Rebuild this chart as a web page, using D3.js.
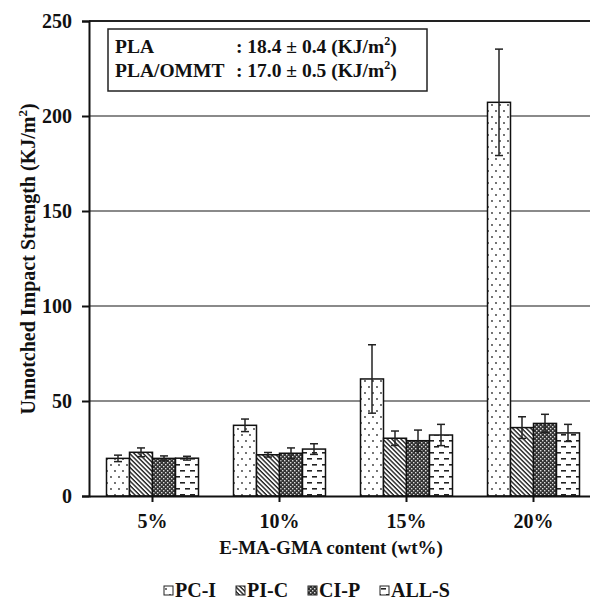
<!DOCTYPE html>
<html>
<head>
<meta charset="utf-8">
<script src="https://cdn.jsdelivr.net/npm/d3@7"></script>
<style>
  html, body { margin: 0; padding: 0; background: #fff; }
  svg { display: block; font-family: "Liberation Serif", "Times New Roman", serif; font-weight: bold; }
</style>
</head>
<body>
<div id="viz"></div>
<script>
// data
const categories = ["5%", "10%", "15%", "20%"];
const series = ["PC-I", "PI-C", "CI-P", "ALL-S"];
const means = {
  "PC-I":  [19.8, 37.2, 61.6, 207.2],
  "PI-C":  [23.0, 21.7, 30.4, 36.0],
  "CI-P":  [19.8, 22.5, 29.1, 38.2],
  "ALL-S": [19.9, 24.7, 32.1, 33.2]
};
const errors = {
  "PC-I":  [1.7, 3.3, 18.0, 28.0],
  "PI-C":  [2.3, 1.2, 3.8, 5.7],
  "CI-P":  [1.3, 2.8, 5.6, 4.8],
  "ALL-S": [1.0, 2.8, 5.6, 4.5]
};
const yTicks = [0, 50, 100, 150, 200, 250];
const gridValues = [50, 100, 150, 200];
const noteLines = [
  { name: "PLA", value: "18.4 \u00b1 0.4" },
  { name: "PLA/OMMT", value: "17.0 \u00b1 0.5" }
];

const width = 590, height = 600;
const plotLeft = 89, plotRight = 597, plotTop = 21, plotBottom = 496;

const svg = d3.select("#viz").append("svg")
  .attr("width", width).attr("height", height);

// fill patterns, one per series
const defs = svg.append("defs");

const pDot = defs.append("pattern").attr("id", "pat-PC-I")
  .attr("patternUnits", "userSpaceOnUse").attr("width", 8).attr("height", 12);
pDot.append("rect").attr("width", 8).attr("height", 12).attr("fill", "#fff");
pDot.append("circle").attr("cx", 2).attr("cy", 3).attr("r", 0.9).attr("fill", "#333");
pDot.append("circle").attr("cx", 6).attr("cy", 9).attr("r", 0.9).attr("fill", "#333");

const pDiag = defs.append("pattern").attr("id", "pat-PI-C")
  .attr("patternUnits", "userSpaceOnUse").attr("width", 3.2).attr("height", 3.2)
  .attr("patternTransform", "rotate(45)");
pDiag.append("rect").attr("width", 3.2).attr("height", 3.2).attr("fill", "#fff");
pDiag.append("rect").attr("width", 3.2).attr("height", 1.4).attr("fill", "#222");

const pCheck = defs.append("pattern").attr("id", "pat-CI-P")
  .attr("patternUnits", "userSpaceOnUse").attr("width", 4).attr("height", 4);
pCheck.append("rect").attr("width", 4).attr("height", 4).attr("fill", "#333");
pCheck.append("rect").attr("x", 0).attr("y", 0).attr("width", 1.4).attr("height", 1.4).attr("fill", "#ddd");
pCheck.append("rect").attr("x", 2).attr("y", 2).attr("width", 1.4).attr("height", 1.4).attr("fill", "#ddd");

const pDash = defs.append("pattern").attr("id", "pat-ALL-S")
  .attr("patternUnits", "userSpaceOnUse").attr("width", 10).attr("height", 12);
pDash.append("rect").attr("width", 10).attr("height", 12).attr("fill", "#fff");
pDash.append("rect").attr("x", 1).attr("y", 2).attr("width", 5).attr("height", 1.6).attr("fill", "#222");
pDash.append("rect").attr("x", 6).attr("y", 8).attr("width", 5).attr("height", 1.6).attr("fill", "#222");
pDash.append("rect").attr("x", -4).attr("y", 8).attr("width", 5).attr("height", 1.6).attr("fill", "#222");

// scales
const x0 = d3.scaleBand().domain(categories).range([plotLeft, plotRight]).padding(0);
const groupW = 92;
const x1 = d3.scaleBand().domain(series)
  .range([(x0.bandwidth() - groupW) / 2, (x0.bandwidth() + groupW) / 2]).padding(0);
const y = d3.scaleLinear().domain([0, 250]).range([plotBottom, plotTop]);

// gridlines
svg.append("g").selectAll("line").data(gridValues).join("line")
  .attr("x1", plotLeft).attr("x2", plotRight)
  .attr("y1", d => y(d)).attr("y2", d => y(d))
  .attr("stroke", "#8a8a8a").attr("stroke-width", 2);

// top border of plot area
svg.append("line").attr("x1", plotLeft).attr("x2", plotRight)
  .attr("y1", y(250)).attr("y2", y(250))
  .attr("stroke", "#222").attr("stroke-width", 2);

// bars
const groups = svg.append("g").selectAll("g").data(categories).join("g")
  .attr("transform", d => `translate(${x0(d)},0)`);

const barData = ci => series.map(s => ({ s, v: means[s][ci], e: errors[s][ci] }));

groups.each(function (cat, ci) {
  const g = d3.select(this);
  const rows = barData(ci);
  g.selectAll("rect").data(rows).join("rect")
    .attr("x", d => x1(d.s))
    .attr("y", d => y(d.v))
    .attr("width", x1.bandwidth())
    .attr("height", d => y(0) - y(d.v))
    .attr("fill", d => `url(#pat-${d.s})`)
    .attr("stroke", "#111").attr("stroke-width", 1.5);

  // error bars
  const eb = g.selectAll("g.err").data(rows).join("g").attr("class", "err")
    .attr("transform", d => `translate(${x1(d.s) + x1.bandwidth() / 2},0)`)
    .attr("stroke", "#222").attr("stroke-width", 1.5);
  eb.append("line").attr("y1", d => y(d.v + d.e)).attr("y2", d => y(d.v - d.e));
  eb.append("line").attr("x1", -4).attr("x2", 4).attr("y1", d => y(d.v + d.e)).attr("y2", d => y(d.v + d.e));
  eb.append("line").attr("x1", -4).attr("x2", 4).attr("y1", d => y(d.v - d.e)).attr("y2", d => y(d.v - d.e));
});

// y axis
const yAxis = svg.append("g").attr("transform", `translate(${plotLeft},0)`)
  .call(d3.axisLeft(y).tickValues(yTicks).tickSize(7).tickPadding(10));
yAxis.select(".domain").attr("stroke", "#111").attr("stroke-width", 2);
yAxis.selectAll(".tick line").attr("stroke", "#111").attr("stroke-width", 2);
yAxis.selectAll(".tick text").attr("font-size", 20).attr("font-family", "Liberation Serif")
  .attr("font-weight", "bold").attr("fill", "#111");

// x axis, ticks at category centres
const xAxis = svg.append("g").attr("transform", `translate(0,${plotBottom})`)
  .call(d3.axisBottom(x0).tickSize(6).tickPadding(12).tickSizeOuter(0));
xAxis.select(".domain").attr("stroke", "#111").attr("stroke-width", 2);
xAxis.selectAll(".tick line").attr("stroke", "#111").attr("stroke-width", 2);
xAxis.selectAll(".tick text").attr("font-size", 20).attr("font-family", "Liberation Serif")
  .attr("font-weight", "bold").attr("fill", "#111");

// axis titles
svg.append("text").attr("x", 331).attr("y", 554).attr("text-anchor", "middle")
  .attr("font-size", 19).attr("fill", "#111").text("E-MA-GMA content (wt%)");

const yt = svg.append("text").attr("transform", "translate(35,259) rotate(-90)")
  .attr("text-anchor", "middle").attr("font-size", 20).attr("fill", "#111");
yt.append("tspan").text("Unnotched Impact Strength (KJ/m");
yt.append("tspan").attr("font-size", 13).attr("dy", -8).text("2");
yt.append("tspan").attr("dy", 8).text(")");

// note box
svg.append("rect").attr("x", 108).attr("y", 29).attr("width", 319).attr("height", 62)
  .attr("fill", "#fff").attr("stroke", "#222").attr("stroke-width", 1.5);
const note = svg.append("g").selectAll("g").data(noteLines).join("g")
  .attr("transform", (d, i) => `translate(0,${53 + i * 24})`);
note.append("text").attr("x", 115).attr("font-size", 19.5).attr("fill", "#111").text(d => d.name);
const nv = note.append("text").attr("x", 236).attr("font-size", 19.5).attr("fill", "#111");
nv.append("tspan").text(d => ": " + d.value + " (KJ/m");
nv.append("tspan").attr("font-size", 12).attr("dy", -8).text("2");
nv.append("tspan").attr("dy", 8).text(")");

// legend
const leg = svg.append("g").selectAll("g").data(series).join("g")
  .attr("transform", (d, i) => `translate(${164 + i * 72},586)`);
leg.append("rect").attr("width", 9).attr("height", 9)
  .attr("fill", d => `url(#pat-${d})`).attr("stroke", "#222").attr("stroke-width", 1);
leg.append("text").attr("x", 11).attr("y", 11).attr("font-size", 20).attr("fill", "#111").text(d => d);
</script>
</body>
</html>
